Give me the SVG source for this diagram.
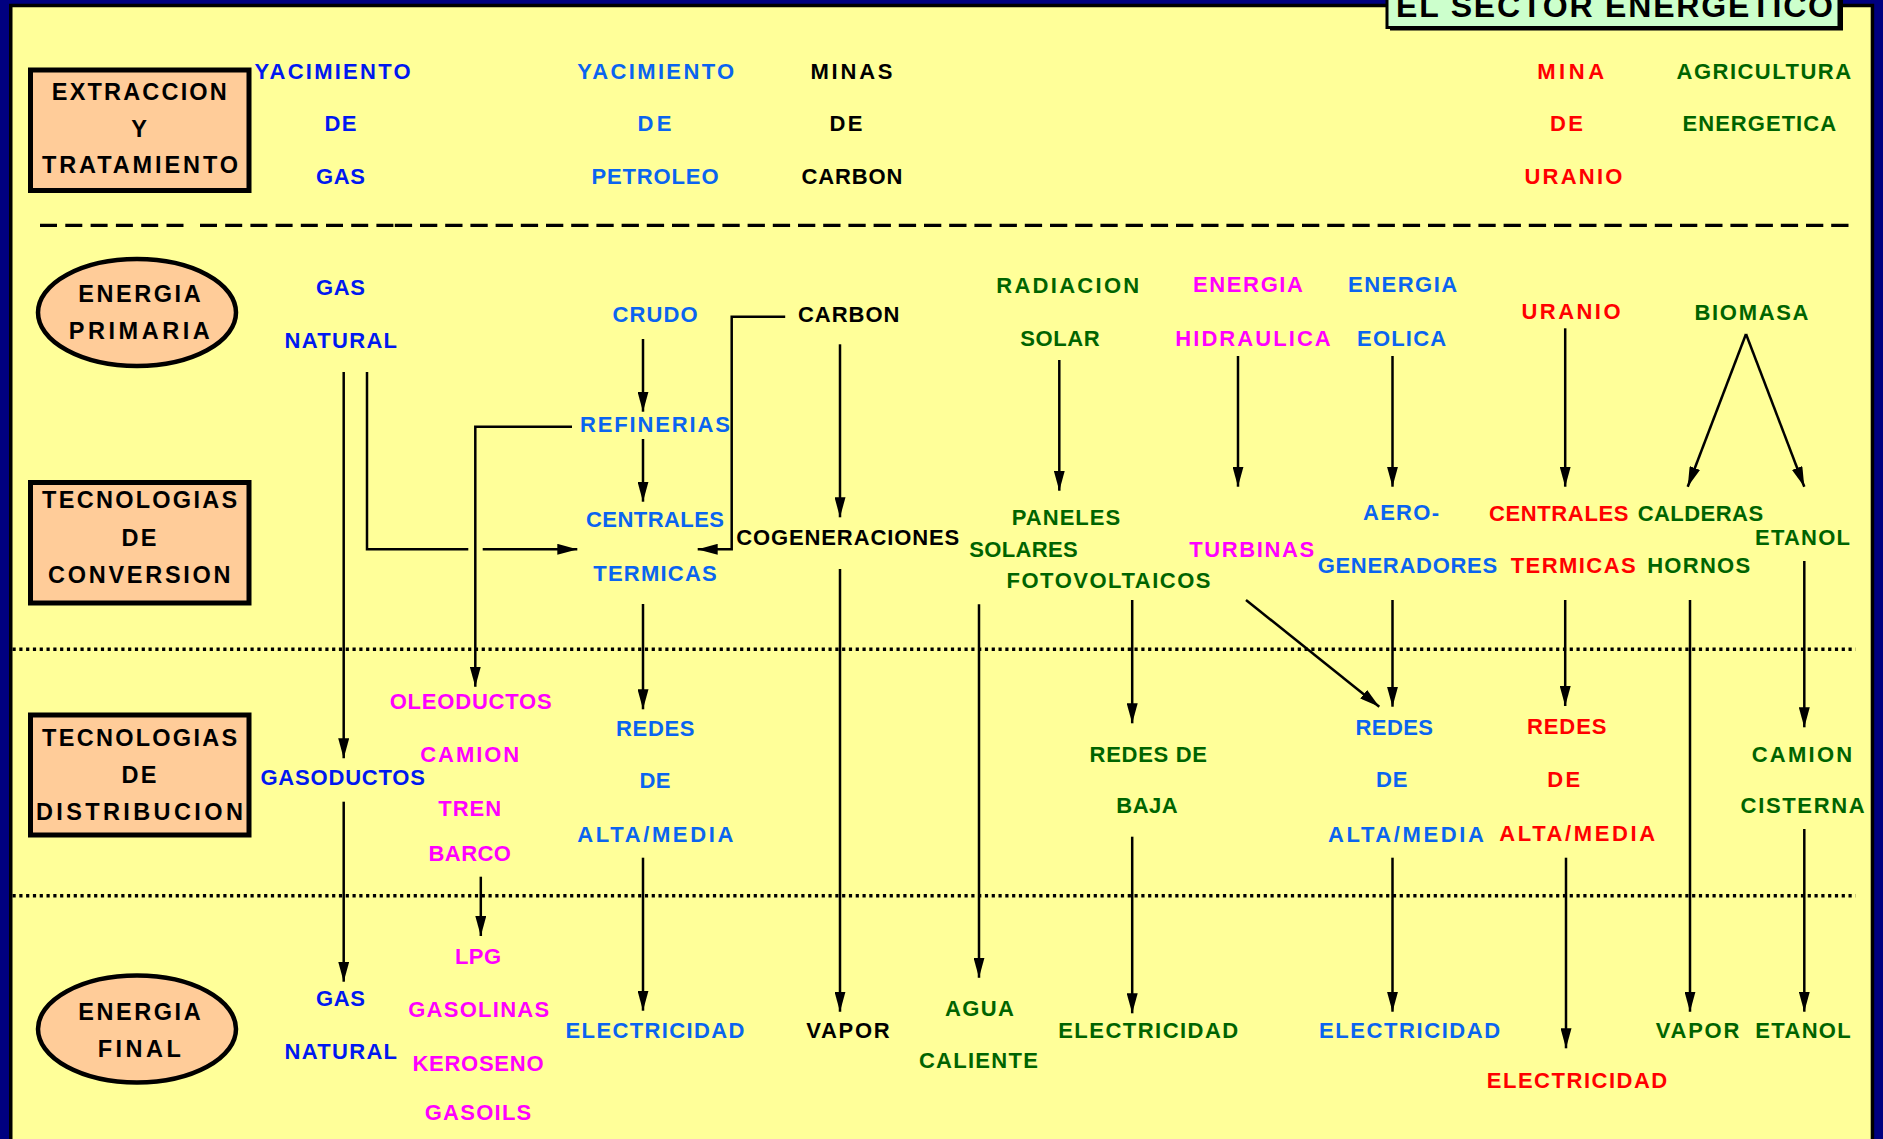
<svg xmlns="http://www.w3.org/2000/svg" width="1883" height="1139" viewBox="0 0 1883 1139">
<defs>
<style>
.t{font-family:"Liberation Sans",Arial,Helvetica,sans-serif;font-weight:bold;font-size:22px;text-anchor:middle}
.lab{font-size:23.5px;fill:#000}
.k{fill:#000}.b{fill:#0018F0}.c{fill:#0A64F0}.g{fill:#006400}.m{fill:#FF00FF}.r{fill:#FF0000}
.ln{fill:none;stroke:#000;stroke-width:2.5}
.ar{marker-end:url(#ah)}
.box{fill:#FFCC99;stroke:#000;stroke-width:5}
</style>
<marker id="ah" markerUnits="userSpaceOnUse" viewBox="0 0 20 11" markerWidth="20" markerHeight="11" refX="20" refY="5.5" orient="auto">
<path d="M0,0 L20,5.5 L0,11 Z" fill="#000"/>
</marker>
</defs>

<rect x="0" y="0" width="1883" height="1139" fill="#000080"/>
<rect x="10.75" y="5.5" width="1861.7" height="1150" fill="#FFFF99" stroke="#000" stroke-width="3.5"/>

<g id="separators" stroke="#000" fill="none">
<path d="M40,225.3 H184" stroke-width="3.3" stroke-dasharray="17 8.3"/>
<path d="M200,225.3 H393.5" stroke-width="3.3" stroke-dasharray="17 8.2"/>
<path d="M394.8,225.3 H1851" stroke-width="3.3" stroke-dasharray="17.3 7.9"/>
<path d="M12.5,649.3 H1855.5" stroke-width="3.4" stroke-dasharray="3.2 3.6"/>
<path d="M12.5,895.7 H1855.5" stroke-width="3.4" stroke-dasharray="3.2 3.6"/>
</g>

<g id="title">
<rect x="1390" y="-6" width="453" height="36.5" fill="#000"/>
<rect x="1387" y="-9" width="452" height="36.5" fill="#CCFFCC" stroke="#000" stroke-width="3"/>
<text class="t k" x="1614.5" y="17" style="font-size:32px" textLength="437" lengthAdjust="spacing">EL SECTOR ENERGETICO</text>
</g>

<g id="label-extraccion">
<rect class="box" x="30.5" y="70" width="218.5" height="120.5"/>
<text class="t lab" x="139.3" y="100" textLength="175" lengthAdjust="spacing">EXTRACCION</text>
<text class="t lab" x="139" y="137">Y</text>
<text class="t lab" x="140" y="173" textLength="196" lengthAdjust="spacing">TRATAMIENTO</text>
</g>
<g id="label-primaria">
<ellipse cx="137" cy="312.5" rx="99" ry="53.5" fill="#FFCC99" stroke="#000" stroke-width="4.5"/>
<text class="t lab" x="139.4" y="301.7" textLength="122.5" lengthAdjust="spacing">ENERGIA</text>
<text class="t lab" x="139.3" y="339" textLength="141" lengthAdjust="spacing">PRIMARIA</text>
</g>
<g id="label-conversion">
<rect class="box" x="30.5" y="482.5" width="218.5" height="120.5"/>
<text class="t lab" x="139.6" y="508.3" textLength="195" lengthAdjust="spacing">TECNOLOGIAS</text>
<text class="t lab" x="139" y="545.7" textLength="35" lengthAdjust="spacing">DE</text>
<text class="t lab" x="139.3" y="583.3" textLength="182.5" lengthAdjust="spacing">CONVERSION</text>
</g>
<g id="label-distribucion">
<rect class="box" x="30.5" y="715" width="218.5" height="120"/>
<text class="t lab" x="139.6" y="746" textLength="195" lengthAdjust="spacing">TECNOLOGIAS</text>
<text class="t lab" x="139" y="782.7" textLength="35" lengthAdjust="spacing">DE</text>
<text class="t lab" x="139.4" y="820" textLength="207" lengthAdjust="spacing">DISTRIBUCION</text>
</g>
<g id="label-final">
<ellipse cx="137" cy="1029" rx="99" ry="53.5" fill="#FFCC99" stroke="#000" stroke-width="4.5"/>
<text class="t lab" x="139.4" y="1020" textLength="122.5" lengthAdjust="spacing">ENERGIA</text>
<text class="t lab" x="139.3" y="1057" textLength="83" lengthAdjust="spacing">FINAL</text>
</g>

<g id="n-yac-gas" class="t b">
<text x="332.6" y="79" textLength="156" lengthAdjust="spacing">YACIMIENTO</text>
<text x="340.5" y="130.5" textLength="32" lengthAdjust="spacing">DE</text>
<text x="340.5" y="183.5" textLength="49" lengthAdjust="spacing">GAS</text>
</g>
<g id="n-yac-petroleo" class="t c">
<text x="655.7" y="78.5" textLength="157" lengthAdjust="spacing">YACIMIENTO</text>
<text x="654.5" y="130.5" textLength="34" lengthAdjust="spacing">DE</text>
<text x="655" y="183.5" textLength="127" lengthAdjust="spacing">PETROLEO</text>
</g>
<g id="n-minas" class="t k">
<text x="851.5" y="78.5" textLength="82" lengthAdjust="spacing">MINAS</text>
<text x="846" y="130.5" textLength="33" lengthAdjust="spacing">DE</text>
<text x="852" y="183.5" textLength="101" lengthAdjust="spacing">CARBON</text>
</g>
<g id="n-mina-uranio" class="t r">
<text x="1570.7" y="78.5" textLength="67" lengthAdjust="spacing">MINA</text>
<text x="1566.4" y="130.5" textLength="33" lengthAdjust="spacing">DE</text>
<text x="1573.4" y="183.5" textLength="98" lengthAdjust="spacing">URANIO</text>
</g>
<g id="n-agricultura" class="t g">
<text x="1763.8" y="78.5" textLength="174.5" lengthAdjust="spacing">AGRICULTURA</text>
<text x="1759.3" y="130.5" textLength="153.5" lengthAdjust="spacing">ENERGETICA</text>
</g>

<g id="n-gas-natural" class="t b">
<text x="340.5" y="295" textLength="49" lengthAdjust="spacing">GAS</text>
<text x="340.8" y="347.7" textLength="112.5" lengthAdjust="spacing">NATURAL</text>
</g>
<g id="n-crudo" class="t c"><text x="655" y="322.3" textLength="85" lengthAdjust="spacing">CRUDO</text></g>
<g id="n-carbon" class="t k"><text x="848.7" y="322.3" textLength="101.5" lengthAdjust="spacing">CARBON</text></g>
<g id="n-radiacion" class="t g">
<text x="1067.7" y="293.3" textLength="143" lengthAdjust="spacing">RADIACION</text>
<text x="1060" y="345.7" textLength="79.5" lengthAdjust="spacing">SOLAR</text>
</g>
<g id="n-hidraulica" class="t m">
<text x="1248" y="292.3" textLength="110" lengthAdjust="spacing">ENERGIA</text>
<text x="1253" y="345.7" textLength="155.5" lengthAdjust="spacing">HIDRAULICA</text>
</g>
<g id="n-eolica" class="t c">
<text x="1402.6" y="292.3" textLength="109" lengthAdjust="spacing">ENERGIA</text>
<text x="1401.6" y="345.7" textLength="89" lengthAdjust="spacing">EOLICA</text>
</g>
<g id="n-uranio" class="t r"><text x="1571" y="319" textLength="99" lengthAdjust="spacing">URANIO</text></g>
<g id="n-biomasa" class="t g"><text x="1751.5" y="320" textLength="114" lengthAdjust="spacing">BIOMASA</text></g>

<g id="n-refinerias" class="t c"><text x="655" y="432.3" textLength="150" lengthAdjust="spacing">REFINERIAS</text></g>
<g id="n-centrales-termicas" class="t c">
<text x="655" y="526.7" textLength="138" lengthAdjust="spacing">CENTRALES</text>
<text x="655" y="580.7" textLength="123.5" lengthAdjust="spacing">TERMICAS</text>
</g>
<g id="n-cogeneraciones" class="t k"><text x="847.7" y="545" textLength="223" lengthAdjust="spacing">COGENERACIONES</text></g>
<g id="n-paneles" class="t g">
<text x="1066" y="525" textLength="108.5" lengthAdjust="spacing">PANELES</text>
<text x="1023.5" y="556.7" textLength="108.5" lengthAdjust="spacing">SOLARES</text>
<text x="1108.5" y="588.3" textLength="204" lengthAdjust="spacing">FOTOVOLTAICOS</text>
</g>
<g id="n-turbinas" class="t m"><text x="1251.7" y="557.3" textLength="125" lengthAdjust="spacing">TURBINAS</text></g>
<g id="n-aerogeneradores" class="t c">
<text x="1401" y="520" textLength="76" lengthAdjust="spacing">AERO-</text>
<text x="1407.4" y="573.3" textLength="179.5" lengthAdjust="spacing">GENERADORES</text>
</g>
<g id="n-centrales-nucl" class="t r">
<text x="1558.7" y="521" textLength="139.5" lengthAdjust="spacing">CENTRALES</text>
<text x="1573.2" y="573.3" textLength="125" lengthAdjust="spacing">TERMICAS</text>
</g>
<g id="n-calderas" class="t g">
<text x="1700.4" y="521" textLength="125.5" lengthAdjust="spacing">CALDERAS</text>
<text x="1698.7" y="573.3" textLength="103" lengthAdjust="spacing">HORNOS</text>
</g>
<g id="n-etanol-conv" class="t g"><text x="1802.5" y="545" textLength="95" lengthAdjust="spacing">ETANOL</text></g>

<g id="n-gasoductos" class="t b"><text x="342.7" y="785" textLength="164.5" lengthAdjust="spacing">GASODUCTOS</text></g>
<g id="n-oleoductos" class="t m">
<text x="470.7" y="709.3" textLength="162" lengthAdjust="spacing">OLEODUCTOS</text>
<text x="469.7" y="761.7" textLength="99" lengthAdjust="spacing">CAMION</text>
<text x="469.7" y="816" textLength="63" lengthAdjust="spacing">TREN</text>
<text x="469.7" y="860.7" textLength="82.5" lengthAdjust="spacing">BARCO</text>
</g>
<g id="n-redes-petroleo" class="t c">
<text x="655.3" y="736" textLength="78.5" lengthAdjust="spacing">REDES</text>
<text x="655" y="787.7" textLength="31" lengthAdjust="spacing">DE</text>
<text x="655.3" y="841.7" textLength="156" lengthAdjust="spacing">ALTA/MEDIA</text>
</g>
<g id="n-redes-baja" class="t g">
<text x="1148.3" y="761.7" textLength="117.5" lengthAdjust="spacing">REDES DE</text>
<text x="1147" y="813.3" textLength="61.5" lengthAdjust="spacing">BAJA</text>
</g>
<g id="n-redes-eolica" class="t c">
<text x="1394.3" y="735" textLength="77.5" lengthAdjust="spacing">REDES</text>
<text x="1391.7" y="787.3" textLength="31.5" lengthAdjust="spacing">DE</text>
<text x="1406" y="841.7" textLength="156" lengthAdjust="spacing">ALTA/MEDIA</text>
</g>
<g id="n-redes-nucl" class="t r">
<text x="1566.7" y="734.3" textLength="79.5" lengthAdjust="spacing">REDES</text>
<text x="1563.7" y="786.7" textLength="33" lengthAdjust="spacing">DE</text>
<text x="1577.2" y="840.7" textLength="156" lengthAdjust="spacing">ALTA/MEDIA</text>
</g>
<g id="n-camion-cisterna" class="t g">
<text x="1801.9" y="761.7" textLength="100.5" lengthAdjust="spacing">CAMION</text>
<text x="1802.6" y="813.3" textLength="124" lengthAdjust="spacing">CISTERNA</text>
</g>

<g id="n-gas-final" class="t b">
<text x="340.5" y="1005.7" textLength="49" lengthAdjust="spacing">GAS</text>
<text x="340.8" y="1059" textLength="112.5" lengthAdjust="spacing">NATURAL</text>
</g>
<g id="n-derivados" class="t m">
<text x="478" y="964.3" textLength="46" lengthAdjust="spacing">LPG</text>
<text x="478.7" y="1016.7" textLength="141" lengthAdjust="spacing">GASOLINAS</text>
<text x="478" y="1071" textLength="131" lengthAdjust="spacing">KEROSENO</text>
<text x="478" y="1120" textLength="106.5" lengthAdjust="spacing">GASOILS</text>
</g>
<g id="n-elec-petroleo" class="t c"><text x="655" y="1037.7" textLength="179" lengthAdjust="spacing">ELECTRICIDAD</text></g>
<g id="n-vapor-cogen" class="t k"><text x="848" y="1037.7" textLength="83.5" lengthAdjust="spacing">VAPOR</text></g>
<g id="n-agua" class="t g">
<text x="979.5" y="1015.7" textLength="69" lengthAdjust="spacing">AGUA</text>
<text x="978.4" y="1068.3" textLength="119" lengthAdjust="spacing">CALIENTE</text>
</g>
<g id="n-elec-solar" class="t g"><text x="1148.2" y="1037.7" textLength="180" lengthAdjust="spacing">ELECTRICIDAD</text></g>
<g id="n-elec-eolica" class="t c"><text x="1409.6" y="1037.7" textLength="181" lengthAdjust="spacing">ELECTRICIDAD</text></g>
<g id="n-elec-nucl" class="t r"><text x="1577" y="1087.7" textLength="180.5" lengthAdjust="spacing">ELECTRICIDAD</text></g>
<g id="n-vapor-bio" class="t g"><text x="1697.6" y="1037.7" textLength="83.5" lengthAdjust="spacing">VAPOR</text></g>
<g id="n-etanol-final" class="t g"><text x="1803" y="1037.7" textLength="95.5" lengthAdjust="spacing">ETANOL</text></g>

<g id="connectors" class="ln">
<path class="ar" d="M343.7,372 V758.3"/>
<path d="M367,372 V549.3 H468.3"/>
<path class="ar" d="M482.7,549.3 H577.3"/>
<path class="ar" d="M572,426.7 H475.3 V686.7"/>
<path class="ar" d="M643,339 V411.7"/>
<path class="ar" d="M643,439 V501.7"/>
<path class="ar" d="M785.2,316.7 H731.7 V549.3 H697.7"/>
<path class="ar" d="M840,344.3 V517.3"/>
<path class="ar" d="M1059.3,360 V490.7"/>
<path class="ar" d="M1238,356 V486.7"/>
<path class="ar" d="M1392.5,356 V486.7"/>
<path class="ar" d="M1565.2,328.3 V486.7"/>
<path class="ar" d="M1746,334 L1687.7,486.7"/>
<path class="ar" d="M1746,334 L1804.3,486.7"/>
<path class="ar" d="M643,604 V709.3"/>
<path class="ar" d="M840,569 V1011.7"/>
<path class="ar" d="M979,604.3 V977.7"/>
<path class="ar" d="M1132.2,600 V723.3"/>
<path class="ar" d="M1246,600 L1379.3,706.7"/>
<path class="ar" d="M1392.5,600 V706.7"/>
<path class="ar" d="M1565.2,600 V706"/>
<path class="ar" d="M1690,600 V1011.7"/>
<path class="ar" d="M1804.3,561 V727.3"/>
<path class="ar" d="M343.7,801.7 V981.7"/>
<path class="ar" d="M480.8,876.7 V936"/>
<path class="ar" d="M643,857.7 V1010.7"/>
<path class="ar" d="M1132.2,836.7 V1013.3"/>
<path class="ar" d="M1392.5,857.7 V1011.7"/>
<path class="ar" d="M1566,857.7 V1048.3"/>
<path class="ar" d="M1804.3,829 V1011.7"/>
</g>
</svg>
